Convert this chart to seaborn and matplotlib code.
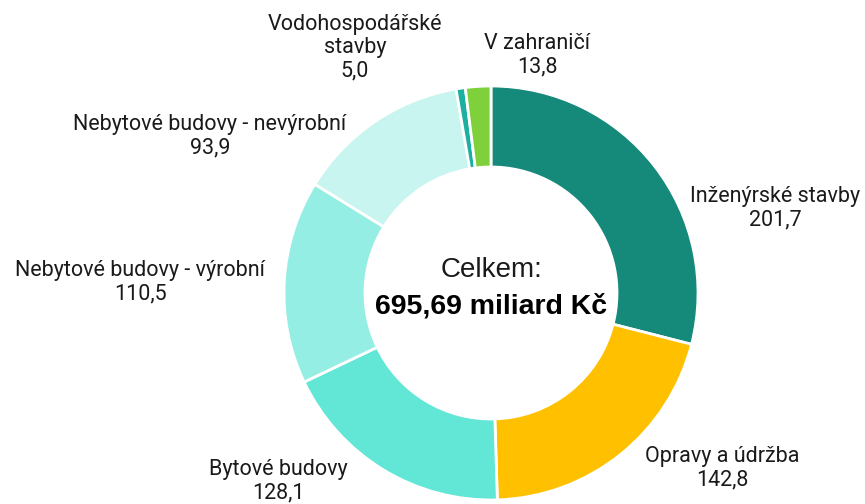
import matplotlib
matplotlib.use("Agg")
import matplotlib.pyplot as plt
import seaborn as sns

categories = ["Inženýrské stavby", "Opravy a údržba", "Bytové budovy",
              "Nebytové budovy - výrobní", "Nebytové budovy - nevýrobní",
              "Vodohospodářské\nstavby", "V zahraničí"]
values = [201.7, 142.8, 128.1, 110.5, 93.9, 5.0, 13.8]
value_labels = ["201,7", "142,8", "128,1", "110,5", "93,9", "5,0", "13,8"]
colors = ["#15897A", "#FFC000", "#62E6D6", "#95EEE3", "#C8F5F0", "#1BB0A0", "#7FD13B"]
total_label = "695,69 miliard Kč"

# label positions in pixel coords from top-left (x, y of block center)
label_pos = [(775, 208), (722, 468), (278, 481), (140, 282), (210, 136), (355, 48), (537, 55)]

sns.set_theme(style="white")
plt.rcParams['font.family'] = ['Roboto', 'DejaVu Sans']

W, H = 865, 504
fig = plt.figure(figsize=(W / 100, H / 100), dpi=100)
ax = fig.add_axes([0, 0, 1, 1])

cx, cy, R = 491, 293, 207
ax.pie(values, colors=colors, startangle=90, counterclock=False,
       center=(cx, H - cy), radius=R,
       wedgeprops=dict(width=81, edgecolor="white", linewidth=2))
ax.set_xlim(0, W)
ax.set_ylim(0, H)
ax.set_aspect("auto")
ax.axis("off")

for cat, vl, (x, y) in zip(categories, value_labels, label_pos):
    ax.text(x, H - y, f"{cat}\n{vl}", ha="center", va="center",
            fontsize=15.5, color="#1a1a1a", linespacing=1.15)

ax.text(cx, H - 270, "Celkem:", ha="center", va="center", fontsize=20,
        color="#1a1a1a", family=["Liberation Sans", "DejaVu Sans"])
ax.text(cx, H - 306, total_label, ha="center", va="center", fontsize=20.5,
        color="black", fontweight="bold", family=["Liberation Sans", "DejaVu Sans"])

fig.savefig("out.png", dpi=100)
